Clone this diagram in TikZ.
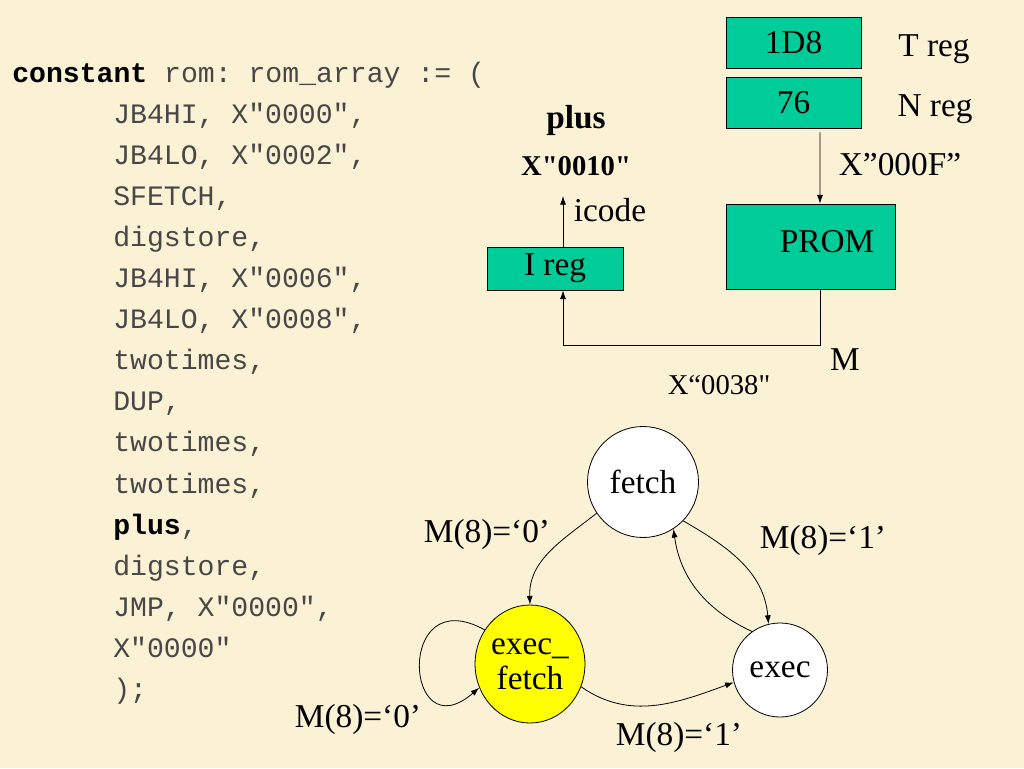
\documentclass[tikz,border=0pt]{standalone}
\usepackage{fontspec}
\setmainfont{Liberation Serif}
\setmonofont{Liberation Mono}
\usetikzlibrary{arrows.meta,shapes.geometric}

\definecolor{parchment}{RGB}{251,241,213}
\definecolor{regteal}{RGB}{0,204,153}
\definecolor{execyellow}{RGB}{255,255,0}

\newcommand{\kw}[1]{\textcolor{black}{\textbf{#1}}}

\tikzset{
  reg/.style={draw, fill=regteal, line width=0.6pt, inner sep=0pt},
  state/.style={draw, ellipse, fill=white, line width=0.6pt, inner sep=0pt, align=center},
  big/.style={font=\fontsize{25}{26.25}\selectfont},
  bigbold/.style={font=\fontsize{25}{26.25}\selectfont\bfseries},
  small/.style={font=\fontsize{21.5}{24}\selectfont},
  smallbold/.style={font=\fontsize{21.5}{24}\selectfont\bfseries},
  lbl/.style={big, anchor=base, inner sep=0pt},
  code/.style={anchor=base west, inner sep=0pt, text=black!72, font=\ttfamily\fontsize{21.1}{24}\selectfont},
  wire/.style={line width=0.6pt, -{Latex[length=6.5pt,width=4.5pt]}},
}

\begin{document}
\begin{tikzpicture}[x=0.75pt,y=-0.75pt]

\fill[parchment] (0,0) rectangle (1024,768);

% rom listing
\node[code] (rom) at (12,82) {\kw{constant} rom: rom\_array := (};
\foreach \codeline [count=\i] in {{JB4HI, X"0000",}, {JB4LO, X"0002",}, {SFETCH,}, {digstore,},
  {JB4HI, X"0006",}, {JB4LO, X"0008",}, {twotimes,}, {DUP,}, {twotimes,}, {twotimes,},
  {\kw{plus},}, {digstore,}, {JMP, X"0000",}, {X"0000"}, {);}}
  \node[code] (line\i) at (113,{82+41.1*\i}) {\codeline};

% registers
\node[reg, big, minimum width=101.25pt, minimum height=38.25pt] (treg) at (793.5,42.5) {1D8};
\node[reg, big, minimum width=101.25pt, minimum height=38.25pt] (nreg) at (793.5,102.5) {76};
\node[reg, minimum width=126.75pt, minimum height=63.75pt] (prom) at (810.5,246.5) {};
\node[lbl] (promtext) at (827,252) {PROM};
\node[reg, big, minimum width=102pt, minimum height=32.25pt] (ireg) at (555,268.5) {I reg};

\node[lbl] (tname) at (934,56) {T reg};
\node[lbl] (nname) at (935,116) {N reg};

\draw[wire] ([shift={(19.9pt,-3pt)}]nreg.south) -- ([xshift=7.1pt]prom.north);
\node[lbl] (addr) at (900,175) {X”000F”};

\draw[wire] ([xshift=7.1pt]prom.south) -- ++(0,56) -| ([xshift=6pt]ireg.south);
\node[lbl] (mname) at (845,370) {M};
\node[lbl, small] (mval) at (719,394) {X“0038\textquotedbl};

\coordinate (icode) at (563,196);
\draw[wire] ([xshift=6pt]ireg.north) -- (icode);
\node[lbl] (icodename) at (610,221) {icode};
\node[lbl, smallbold] (icodeval) at (576,175) {X\textquotedbl0010\textquotedbl};
\node[lbl, bigbold] (opname) at (576,128) {plus};

% state machine
\node[state, big, minimum width=83.25pt, minimum height=83.25pt] (fetch) at (643,482) {fetch};
\node[state, big, fill=execyellow, minimum width=77.25pt, minimum height=88.5pt] (ef) at (530,664) {exec\_\\fetch};
\node[state, big, minimum width=71.25pt, minimum height=70.5pt] (exec) at (780,670) {exec};

\draw[wire] (fetch.214) to[out=218,in=92] (ef.north);
\node[lbl] (f0) at (487,542) {M(8)=‘0’};

\draw[wire] (fetch.-44) to[out=-30,in=95] (exec.104);
\node[lbl] (f1) at (823,548) {M(8)=‘1’};

\draw[wire] (exec.126) to[out=155,in=-82] (fetch.-57);

\draw[wire] (ef.-24) to[out=-35,in=200] (exec.195);
\node[lbl] (e1) at (679,745) {M(8)=‘1’};

\draw[wire] (ef.143) .. controls +(-90,-50) and +(-75,65) .. (ef.205);
\node[lbl] (e0) at (358,727) {M(8)=‘0’};

\end{tikzpicture}
\end{document}
